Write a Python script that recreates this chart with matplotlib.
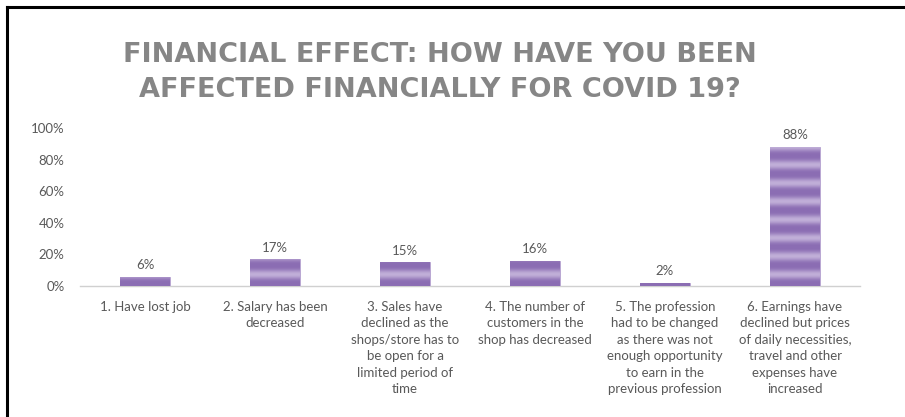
import matplotlib.pyplot as plt
import numpy as np
from matplotlib.lines import Line2D
from matplotlib.colors import LinearSegmentedColormap


categories = [
    "1. Have lost job",
    "2. Salary has been\ndecreased",
    "3. Sales have\ndeclined as the\nshops/store has to\nbe open for a\nlimited period of\ntime",
    "4. The number of\ncustomers in the\nshop has decreased",
    "5. The profession\nhad to be changed\nas there was not\nenough opportunity\nto earn in the\nprevious profession",
    "6. Earnings have\ndeclined but prices\nof daily necessities,\ntravel and other\nexpenses have\nincreased",
]
values = [6, 17, 15, 16, 2, 88]
y_ticks = [0, 20, 40, 60, 80, 100]
title = "FINANCIAL EFFECT: HOW HAVE YOU BEEN\nAFFECTED FINANCIALLY FOR COVID 19?"

BAR_DARK = "#8b6db3"
BAR_LIGHT = "#c9b9de"
TEXT_GRAY = "#595959"
LABEL_FONT = ["Lato", "DejaVu Sans"]

fig = plt.figure(figsize=(9.05, 4.17), dpi=100)
ax = fig.add_axes([0.0884, 0.3141, 0.8619, 0.379])

x = np.arange(len(values))
bars = ax.bar(x, values, width=0.38, color=BAR_DARK, edgecolor="#b9a6d3", linewidth=0.6, zorder=2)

# soft horizontal light bands inside each bar
stripe_cmap = LinearSegmentedColormap.from_list("stripes", [BAR_DARK, BAR_LIGHT])
yy = np.linspace(0, 100, 800)
period = 11.5
band = 0.5 - 0.5 * np.cos(2 * np.pi * (yy - 1.5) / period)
band = band ** 1.6
texture = np.tile(band[:, None], (1, 4))
for rect in bars:
    x0 = rect.get_x()
    w = rect.get_width()
    im = ax.imshow(texture, cmap=stripe_cmap, vmin=0, vmax=1.15, origin="lower",
                   extent=[x0, x0 + w, 0, 100], aspect="auto", interpolation="bilinear", zorder=3)
    im.set_clip_path(rect)

for rect, v in zip(bars, values):
    ax.annotate(f"{v}%", (rect.get_x() + rect.get_width() / 2, v), xytext=(0, 4),
                textcoords="offset points", ha="center", va="bottom",
                fontsize=9.5, color=TEXT_GRAY, family=LABEL_FONT)

ax.set_xlim(-0.5, len(values) - 0.5)
ax.set_ylim(0, 100)
ax.set_yticks(y_ticks)
ax.set_yticklabels([f"{t}%" for t in y_ticks], fontsize=9.5, color=TEXT_GRAY, family=LABEL_FONT)
ax.set_xticks(x)
ax.set_xticklabels(categories, fontsize=9.5, color=TEXT_GRAY, linespacing=1.45,
                   va="top", family=LABEL_FONT)
ax.tick_params(axis="both", length=0)
ax.tick_params(axis="y", pad=11)
ax.tick_params(axis="x", pad=10.5)

for side in ["top", "right", "left"]:
    ax.spines[side].set_visible(False)
ax.spines["bottom"].set_color("#d0d0d0")
ax.spines["bottom"].set_linewidth(1.0)
ax.spines["bottom"].set_zorder(1)

fig.text(0.486, 0.827, title, ha="center", va="center", fontsize=19.5, fontweight="bold",
         color="#868686", linespacing=1.45)

# screenshot frame (left and top edges)
fig.add_artist(Line2D([7 / 905, 7 / 905], [0, 1 - 7 / 417], transform=fig.transFigure,
                      color="black", linewidth=2.2))
fig.add_artist(Line2D([7 / 905, 1], [1 - 7 / 417, 1 - 7 / 417], transform=fig.transFigure,
                      color="black", linewidth=2.2))

fig.savefig("out.png", dpi=100)
